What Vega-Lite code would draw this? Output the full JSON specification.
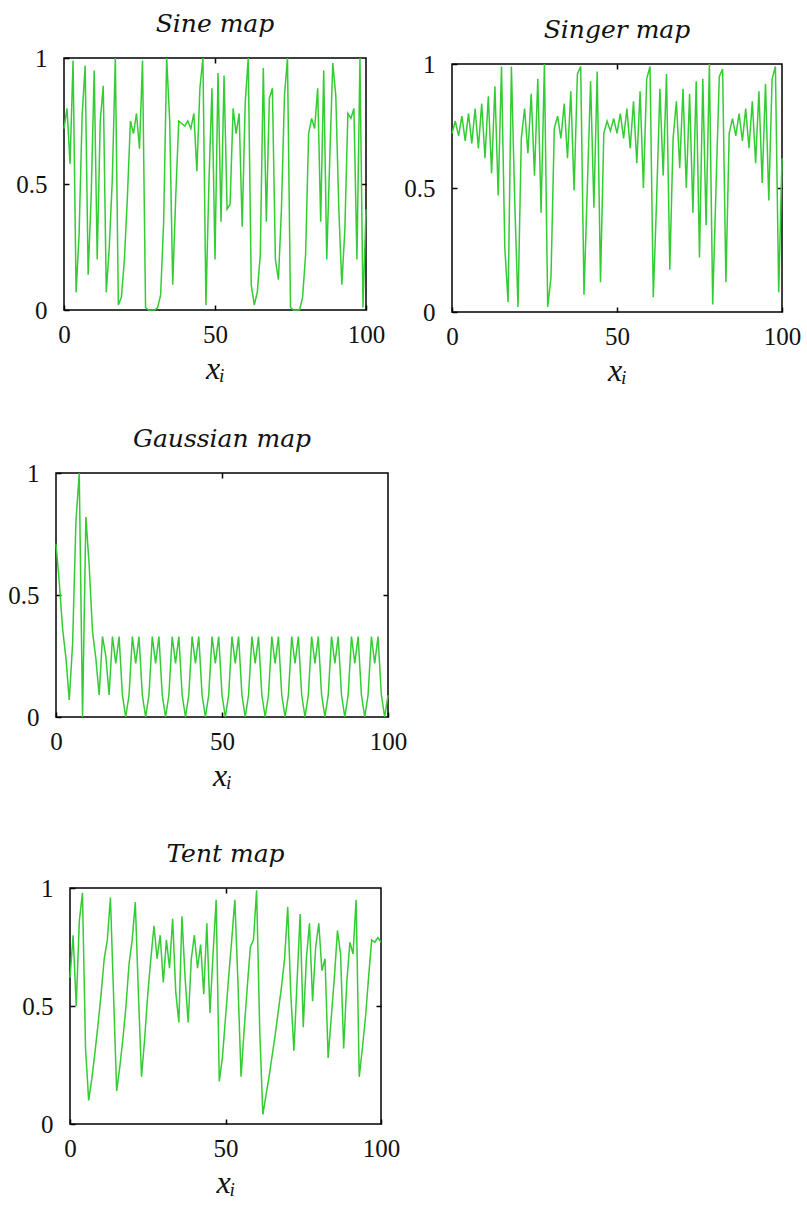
{
  "$schema": "https://vega.github.io/schema/vega-lite/v6.json",
  "background": "white",
  "padding": {"top": 0, "left": 0, "right": 0, "bottom": 0},
  "config": {
    "view": {"stroke": "#000", "strokeWidth": 1.5},
    "axis": {"domain": false, "grid": false, "ticks": true, "tickSize": -5, "tickColor": "#000", "tickWidth": 1.5,
      "labelFont": "Liberation Serif", "labelFontSize": 25, "labelColor": "#111", "labelFlush": false, "labelOverlap": false,
      "titleFont": "Liberation Serif", "titleFontStyle": "italic", "titleFontWeight": "normal", "titleFontSize": 32, "titleColor": "#111"},
    "axisX": {"labelPadding": 17, "titlePadding": 6},
    "axisY": {"labelPadding": 22},
    "title": {"font": "DejaVu Serif", "fontStyle": "italic", "fontWeight": "normal", "fontSize": 25, "color": "#111", "offset": 9}
  },
  "datasets": {
    "sine": [
      {"i":0,"v":0.72},{"i":1,"v":0.80},{"i":2,"v":0.58},{"i":3,"v":0.99},{"i":4,"v":0.07},{"i":5,"v":0.30},{"i":6,"v":0.77},{"i":7,"v":0.97},{"i":8,"v":0.14},{"i":9,"v":0.45},
      {"i":10,"v":0.95},{"i":11,"v":0.20},{"i":12,"v":0.75},{"i":13,"v":0.89},{"i":14,"v":0.07},{"i":15,"v":0.25},{"i":16,"v":0.52},{"i":17,"v":1.00},{"i":18,"v":0.02},{"i":19,"v":0.05},
      {"i":20,"v":0.20},{"i":21,"v":0.45},{"i":22,"v":0.75},{"i":23,"v":0.70},{"i":24,"v":0.78},{"i":25,"v":0.64},{"i":26,"v":0.99},{"i":27,"v":0.01},{"i":28,"v":0.00},{"i":29,"v":0.00},
      {"i":30,"v":0.00},{"i":31,"v":0.01},{"i":32,"v":0.06},{"i":33,"v":0.35},{"i":34,"v":1.00},{"i":35,"v":0.75},{"i":36,"v":0.10},{"i":37,"v":0.45},{"i":38,"v":0.75},{"i":39,"v":0.74},
      {"i":40,"v":0.73},{"i":41,"v":0.75},{"i":42,"v":0.72},{"i":43,"v":0.78},{"i":44,"v":0.55},{"i":45,"v":0.88},{"i":46,"v":1.00},{"i":47,"v":0.02},{"i":48,"v":0.51},{"i":49,"v":0.88},
      {"i":50,"v":0.20},{"i":51,"v":0.94},{"i":52,"v":0.35},{"i":53,"v":0.93},{"i":54,"v":0.40},{"i":55,"v":0.42},{"i":56,"v":0.80},{"i":57,"v":0.70},{"i":58,"v":0.78},{"i":59,"v":0.33},
      {"i":60,"v":0.82},{"i":61,"v":1.00},{"i":62,"v":0.10},{"i":63,"v":0.02},{"i":64,"v":0.07},{"i":65,"v":0.22},{"i":66,"v":0.96},{"i":67,"v":0.35},{"i":68,"v":0.84},{"i":69,"v":0.88},
      {"i":70,"v":0.20},{"i":71,"v":0.12},{"i":72,"v":0.40},{"i":73,"v":0.85},{"i":74,"v":1.00},{"i":75,"v":0.01},{"i":76,"v":0.00},{"i":77,"v":0.00},{"i":78,"v":0.00},{"i":79,"v":0.05},
      {"i":80,"v":0.22},{"i":81,"v":0.70},{"i":82,"v":0.76},{"i":83,"v":0.72},{"i":84,"v":0.88},{"i":85,"v":0.35},{"i":86,"v":0.95},{"i":87,"v":0.20},{"i":88,"v":0.60},{"i":89,"v":0.98},
      {"i":90,"v":0.85},{"i":91,"v":0.40},{"i":92,"v":0.10},{"i":93,"v":0.32},{"i":94,"v":0.78},{"i":95,"v":0.76},{"i":96,"v":0.80},{"i":97,"v":0.20},{"i":98,"v":1.00},{"i":99,"v":0.01},
      {"i":100,"v":0.40}
    ],
    "singer": [
      {"i":0,"v":0.72},{"i":1,"v":0.77},{"i":2,"v":0.71},{"i":3,"v":0.79},{"i":4,"v":0.69},{"i":5,"v":0.80},{"i":6,"v":0.68},{"i":7,"v":0.82},{"i":8,"v":0.66},{"i":9,"v":0.84},
      {"i":10,"v":0.62},{"i":11,"v":0.87},{"i":12,"v":0.56},{"i":13,"v":0.91},{"i":14,"v":0.47},{"i":15,"v":0.99},{"i":16,"v":0.26},{"i":17,"v":0.04},{"i":18,"v":0.99},{"i":19,"v":0.45},
      {"i":20,"v":0.02},{"i":21,"v":0.70},{"i":22,"v":0.82},{"i":23,"v":0.64},{"i":24,"v":0.88},{"i":25,"v":0.55},{"i":26,"v":0.94},{"i":27,"v":0.40},{"i":28,"v":1.00},{"i":29,"v":0.02},
      {"i":30,"v":0.14},{"i":31,"v":0.74},{"i":32,"v":0.79},{"i":33,"v":0.70},{"i":34,"v":0.84},{"i":35,"v":0.62},{"i":36,"v":0.89},{"i":37,"v":0.49},{"i":38,"v":0.96},{"i":39,"v":0.99},
      {"i":40,"v":0.07},{"i":41,"v":0.50},{"i":42,"v":0.93},{"i":43,"v":0.42},{"i":44,"v":0.97},{"i":45,"v":0.12},{"i":46,"v":0.72},{"i":47,"v":0.77},{"i":48,"v":0.73},{"i":49,"v":0.78},
      {"i":50,"v":0.72},{"i":51,"v":0.80},{"i":52,"v":0.70},{"i":53,"v":0.82},{"i":54,"v":0.66},{"i":55,"v":0.85},{"i":56,"v":0.60},{"i":57,"v":0.89},{"i":58,"v":0.50},{"i":59,"v":0.94},
      {"i":60,"v":0.99},{"i":61,"v":0.06},{"i":62,"v":0.45},{"i":63,"v":0.90},{"i":64,"v":0.55},{"i":65,"v":0.96},{"i":66,"v":0.17},{"i":67,"v":0.70},{"i":68,"v":0.85},{"i":69,"v":0.58},
      {"i":70,"v":0.90},{"i":71,"v":0.50},{"i":72,"v":0.88},{"i":73,"v":0.40},{"i":74,"v":0.93},{"i":75,"v":0.22},{"i":76,"v":0.94},{"i":77,"v":0.35},{"i":78,"v":1.00},{"i":79,"v":0.03},
      {"i":80,"v":0.50},{"i":81,"v":0.95},{"i":82,"v":0.98},{"i":83,"v":0.12},{"i":84,"v":0.72},{"i":85,"v":0.78},{"i":86,"v":0.71},{"i":87,"v":0.80},{"i":88,"v":0.69},{"i":89,"v":0.82},
      {"i":90,"v":0.66},{"i":91,"v":0.85},{"i":92,"v":0.60},{"i":93,"v":0.89},{"i":94,"v":0.52},{"i":95,"v":0.92},{"i":96,"v":0.45},{"i":97,"v":0.94},{"i":98,"v":0.99},{"i":99,"v":0.08},
      {"i":100,"v":0.62}
    ],
    "gauss": [
      {"i":0,"v":0.71},{"i":1,"v":0.55},{"i":2,"v":0.36},{"i":3,"v":0.24},{"i":4,"v":0.07},{"i":5,"v":0.30},{"i":6,"v":0.80},{"i":7,"v":1.00},{"i":8,"v":0.00},{"i":9,"v":0.82},
      {"i":10,"v":0.62},{"i":11,"v":0.35},{"i":12,"v":0.24},{"i":13,"v":0.09},{"i":14,"v":0.33},{"i":15,"v":0.25},{"i":16,"v":0.09},{"i":17,"v":0.33},{"i":18,"v":0.22},{"i":19,"v":0.33},
      {"i":20,"v":0.09},{"i":21,"v":0.00},{"i":22,"v":0.09},{"i":23,"v":0.33},{"i":24,"v":0.22},{"i":25,"v":0.33},{"i":26,"v":0.09},{"i":27,"v":0.00},{"i":28,"v":0.09},{"i":29,"v":0.33},
      {"i":30,"v":0.22},{"i":31,"v":0.33},{"i":32,"v":0.09},{"i":33,"v":0.00},{"i":34,"v":0.09},{"i":35,"v":0.33},{"i":36,"v":0.22},{"i":37,"v":0.33},{"i":38,"v":0.09},{"i":39,"v":0.00},
      {"i":40,"v":0.09},{"i":41,"v":0.33},{"i":42,"v":0.22},{"i":43,"v":0.33},{"i":44,"v":0.09},{"i":45,"v":0.00},{"i":46,"v":0.09},{"i":47,"v":0.33},{"i":48,"v":0.22},{"i":49,"v":0.33},
      {"i":50,"v":0.09},{"i":51,"v":0.00},{"i":52,"v":0.09},{"i":53,"v":0.33},{"i":54,"v":0.22},{"i":55,"v":0.33},{"i":56,"v":0.09},{"i":57,"v":0.00},{"i":58,"v":0.09},{"i":59,"v":0.33},
      {"i":60,"v":0.22},{"i":61,"v":0.33},{"i":62,"v":0.09},{"i":63,"v":0.00},{"i":64,"v":0.09},{"i":65,"v":0.33},{"i":66,"v":0.22},{"i":67,"v":0.33},{"i":68,"v":0.09},{"i":69,"v":0.00},
      {"i":70,"v":0.09},{"i":71,"v":0.33},{"i":72,"v":0.22},{"i":73,"v":0.33},{"i":74,"v":0.09},{"i":75,"v":0.00},{"i":76,"v":0.09},{"i":77,"v":0.33},{"i":78,"v":0.22},{"i":79,"v":0.33},
      {"i":80,"v":0.09},{"i":81,"v":0.00},{"i":82,"v":0.09},{"i":83,"v":0.33},{"i":84,"v":0.22},{"i":85,"v":0.33},{"i":86,"v":0.09},{"i":87,"v":0.00},{"i":88,"v":0.09},{"i":89,"v":0.33},
      {"i":90,"v":0.22},{"i":91,"v":0.33},{"i":92,"v":0.09},{"i":93,"v":0.00},{"i":94,"v":0.09},{"i":95,"v":0.33},{"i":96,"v":0.22},{"i":97,"v":0.33},{"i":98,"v":0.09},{"i":99,"v":0.00},
      {"i":100,"v":0.09}
    ],
    "tent": [
      {"i":0,"v":0.62},{"i":1,"v":0.80},{"i":2,"v":0.50},{"i":3,"v":0.86},{"i":4,"v":0.98},{"i":5,"v":0.32},{"i":6,"v":0.10},{"i":7,"v":0.19},{"i":8,"v":0.30},{"i":9,"v":0.42},
      {"i":10,"v":0.55},{"i":11,"v":0.70},{"i":12,"v":0.78},{"i":13,"v":0.96},{"i":14,"v":0.55},{"i":15,"v":0.14},{"i":16,"v":0.24},{"i":17,"v":0.36},{"i":18,"v":0.50},{"i":19,"v":0.68},
      {"i":20,"v":0.78},{"i":21,"v":0.94},{"i":22,"v":0.55},{"i":23,"v":0.20},{"i":24,"v":0.36},{"i":25,"v":0.55},{"i":26,"v":0.70},{"i":27,"v":0.84},{"i":28,"v":0.70},{"i":29,"v":0.80},
      {"i":30,"v":0.60},{"i":31,"v":0.78},{"i":32,"v":0.66},{"i":33,"v":0.87},{"i":34,"v":0.56},{"i":35,"v":0.43},{"i":36,"v":0.88},{"i":37,"v":0.62},{"i":38,"v":0.43},{"i":39,"v":0.70},
      {"i":40,"v":0.80},{"i":41,"v":0.66},{"i":42,"v":0.76},{"i":43,"v":0.55},{"i":44,"v":0.85},{"i":45,"v":0.47},{"i":46,"v":0.72},{"i":47,"v":0.95},{"i":48,"v":0.18},{"i":49,"v":0.28},
      {"i":50,"v":0.45},{"i":51,"v":0.62},{"i":52,"v":0.78},{"i":53,"v":0.95},{"i":54,"v":0.60},{"i":55,"v":0.20},{"i":56,"v":0.40},{"i":57,"v":0.58},{"i":58,"v":0.75},{"i":59,"v":0.78},
      {"i":60,"v":0.99},{"i":61,"v":0.40},{"i":62,"v":0.04},{"i":63,"v":0.12},{"i":64,"v":0.20},{"i":65,"v":0.29},{"i":66,"v":0.38},{"i":67,"v":0.48},{"i":68,"v":0.58},{"i":69,"v":0.70},
      {"i":70,"v":0.92},{"i":71,"v":0.55},{"i":72,"v":0.31},{"i":73,"v":0.60},{"i":74,"v":0.89},{"i":75,"v":0.41},{"i":76,"v":0.70},{"i":77,"v":0.85},{"i":78,"v":0.52},{"i":79,"v":0.75},
      {"i":80,"v":0.85},{"i":81,"v":0.65},{"i":82,"v":0.70},{"i":83,"v":0.28},{"i":84,"v":0.45},{"i":85,"v":0.62},{"i":86,"v":0.82},{"i":87,"v":0.72},{"i":88,"v":0.32},{"i":89,"v":0.60},
      {"i":90,"v":0.77},{"i":91,"v":0.72},{"i":92,"v":0.95},{"i":93,"v":0.20},{"i":94,"v":0.32},{"i":95,"v":0.45},{"i":96,"v":0.62},{"i":97,"v":0.78},{"i":98,"v":0.77},{"i":99,"v":0.79},
      {"i":100,"v":0.77}
    ]
  },
  "columns": 2,
  "spacing": -5,
  "concat": [
    {
      "columns": 1,
      "spacing": 49,
      "concat": [
        {
          "columns": 1,
          "spacing": 41,
          "concat": [
            {
              "columns": 1,
              "spacing": 10,
              "concat": [
                {"width": 1, "height": 1, "view": {"stroke": null}, "data": {"values": []}, "mark": {"type": "point", "opacity": 0}},
                {
                  "columns": 2,
                  "spacing": 2,
                  "concat": [
                    {"width": 11, "height": 1, "view": {"stroke": null}, "data": {"values": []}, "mark": {"type": "point", "opacity": 0}},
                    {
                      "width": 302, "height": 252,
                      "title": {"text": "Sine map"},
                      "data": {"name": "sine"},
                      "layer": [
                        {"mark": {"type": "line", "color": "#33cc33", "strokeWidth": 1.5},
                         "encoding": {
                           "x": {"field": "i", "type": "quantitative", "scale": {"domain": [0, 100], "nice": false, "zero": false}, "axis": {"orient": "bottom", "values": [0, 50, 100], "title": "xᵢ"}},
                           "y": {"field": "v", "type": "quantitative", "scale": {"domain": [0, 1], "nice": false}, "axis": {"orient": "left", "values": [0, 0.5, 1], "format": "~g", "title": null, "minExtent": 50, "maxExtent": 50}}}},
                        {"mark": {"type": "line", "opacity": 0},
                         "encoding": {
                           "x": {"field": "i", "type": "quantitative", "axis": {"orient": "top", "values": [50], "labels": false, "title": null, "minExtent": 0, "maxExtent": 0}},
                           "y": {"field": "v", "type": "quantitative", "axis": {"orient": "right", "values": [0.5], "labels": false, "title": null, "minExtent": 0, "maxExtent": 0}}}}
                      ],
                      "resolve": {"axis": {"x": "independent", "y": "independent"}}
                    }
                  ]
                }
              ]
            },
            {
              "columns": 2,
              "spacing": 2,
              "concat": [
                {"width": 3, "height": 1, "view": {"stroke": null}, "data": {"values": []}, "mark": {"type": "point", "opacity": 0}},
                {
                  "width": 332, "height": 244,
                  "title": {"text": "Gaussian map"},
                  "data": {"name": "gauss"},
                  "layer": [
                    {"mark": {"type": "line", "color": "#33cc33", "strokeWidth": 1.5},
                     "encoding": {
                       "x": {"field": "i", "type": "quantitative", "scale": {"domain": [0, 100], "nice": false, "zero": false}, "axis": {"orient": "bottom", "values": [0, 50, 100], "title": "xᵢ"}},
                       "y": {"field": "v", "type": "quantitative", "scale": {"domain": [0, 1], "nice": false}, "axis": {"orient": "left", "values": [0, 0.5, 1], "format": "~g", "title": null, "minExtent": 50, "maxExtent": 50}}}},
                    {"mark": {"type": "line", "opacity": 0},
                     "encoding": {
                       "x": {"field": "i", "type": "quantitative", "axis": {"orient": "top", "values": [50], "labels": false, "title": null, "minExtent": 0, "maxExtent": 0}},
                       "y": {"field": "v", "type": "quantitative", "axis": {"orient": "right", "values": [0.5], "labels": false, "title": null, "minExtent": 0, "maxExtent": 0}}}}
                  ],
                  "resolve": {"axis": {"x": "independent", "y": "independent"}}
                }
              ]
            }
          ]
        },
        {
          "columns": 2,
          "spacing": 2,
          "concat": [
            {"width": 17, "height": 1, "view": {"stroke": null}, "data": {"values": []}, "mark": {"type": "point", "opacity": 0}},
            {
              "width": 311, "height": 236,
              "title": {"text": "Tent map"},
              "data": {"name": "tent"},
              "layer": [
                {"mark": {"type": "line", "color": "#33cc33", "strokeWidth": 1.5},
                 "encoding": {
                   "x": {"field": "i", "type": "quantitative", "scale": {"domain": [0, 100], "nice": false, "zero": false}, "axis": {"orient": "bottom", "values": [0, 50, 100], "title": "xᵢ"}},
                   "y": {"field": "v", "type": "quantitative", "scale": {"domain": [0, 1], "nice": false}, "axis": {"orient": "left", "values": [0, 0.5, 1], "format": "~g", "title": null, "minExtent": 50, "maxExtent": 50}}}},
                {"mark": {"type": "line", "opacity": 0},
                 "encoding": {
                   "x": {"field": "i", "type": "quantitative", "axis": {"orient": "top", "values": [50], "labels": false, "title": null, "minExtent": 0, "maxExtent": 0}},
                   "y": {"field": "v", "type": "quantitative", "axis": {"orient": "right", "values": [0.5], "labels": false, "title": null, "minExtent": 0, "maxExtent": 0}}}}
              ],
              "resolve": {"axis": {"x": "independent", "y": "independent"}}
            }
          ]
        }
      ]
    },
    {
      "columns": 1,
      "spacing": 16,
      "concat": [
        {"width": 1, "height": 1, "view": {"stroke": null}, "data": {"values": []}, "mark": {"type": "point", "opacity": 0}},
        {
          "width": 330, "height": 248,
          "title": {"text": "Singer map"},
          "data": {"name": "singer"},
          "layer": [
            {"mark": {"type": "line", "color": "#33cc33", "strokeWidth": 1.5},
             "encoding": {
               "x": {"field": "i", "type": "quantitative", "scale": {"domain": [0, 100], "nice": false, "zero": false}, "axis": {"orient": "bottom", "values": [0, 50, 100], "title": "xᵢ"}},
               "y": {"field": "v", "type": "quantitative", "scale": {"domain": [0, 1], "nice": false}, "axis": {"orient": "left", "values": [0, 0.5, 1], "format": "~g", "title": null, "minExtent": 44, "maxExtent": 44}}}},
            {"mark": {"type": "line", "opacity": 0},
             "encoding": {
               "x": {"field": "i", "type": "quantitative", "axis": {"orient": "top", "values": [50], "labels": false, "title": null, "minExtent": 0, "maxExtent": 0}},
               "y": {"field": "v", "type": "quantitative", "axis": {"orient": "right", "values": [0.5], "labels": false, "title": null, "minExtent": 0, "maxExtent": 0}}}}
          ],
          "resolve": {"axis": {"x": "independent", "y": "independent"}}
        }
      ]
    }
  ]
}
